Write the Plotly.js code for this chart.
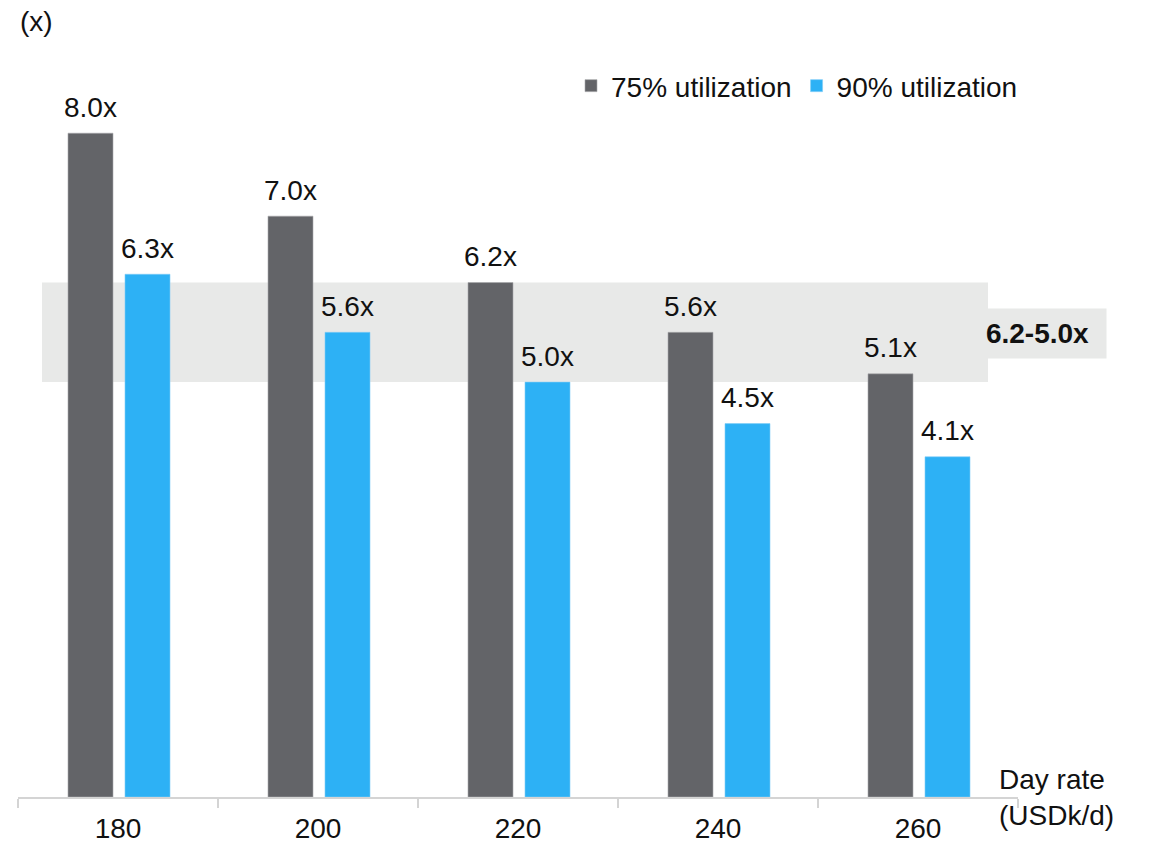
<!DOCTYPE html>
<html>
<head>
<meta charset="utf-8">
<script src="https://cdn.plot.ly/plotly-3.0.1.min.js"></script>
<style>
  html, body { margin: 0; padding: 0; background: #ffffff; }
  #chart { width: 1152px; height: 845px; }
</style>
</head>
<body>
<div id="chart"></div>
<script>
// Payback multiple (x) by day rate, at two utilization levels
const dayRates = ['180', '200', '220', '240', '260'];
const util75 = [8.0, 7.0, 6.2, 5.6, 5.1];
const util90 = [6.3, 5.6, 5.0, 4.5, 4.1];
const seriesNames = ['75% utilization', '90% utilization'];

// Highlighted range
const bandHigh = 6.2;
const bandLow = 5.0;

const FONT = 'Liberation Sans, Arial, Helvetica, sans-serif';
const FS = 28;
const GREY = '#636468';
const BLUE = '#2db1f5';
const BAND = '#e8e9e8';
const INK = '#111111';

// bar geometry, in category units
const BAR_W = 0.225;
const OFFSETS = [-0.25, 0.035];

const fmt = v => v.toFixed(1) + 'x';

const series = [util75, util90];
const colors = [GREY, BLUE];
const edges = ['#a9aaad', '#7fcdf7'];

const traces = series.map((vals, k) => ({
  type: 'bar',
  name: seriesNames[k],
  x: dayRates,
  y: vals,
  width: BAR_W,
  offset: OFFSETS[k],
  marker: { color: colors[k], line: { color: edges[k], width: 0.6 } },
  hoverinfo: 'skip'
}));

// value labels floating above each bar
const valueLabels = [];
series.forEach((vals, k) => {
  vals.forEach((v, i) => {
    valueLabels.push({
      xref: 'x', yref: 'y',
      x: i + OFFSETS[k] + BAR_W / 2,
      y: v,
      xanchor: 'center', yanchor: 'middle',
      yshift: 26,
      text: fmt(v),
      showarrow: false,
      font: { family: FONT, size: FS, color: INK }
    });
  });
});

const layout = {
  width: 1152,
  height: 845,
  margin: { l: 18, r: 134, t: 100, b: 48 },
  paper_bgcolor: '#ffffff',
  plot_bgcolor: '#ffffff',
  font: { family: FONT, size: FS, color: INK },
  barmode: 'group',
  showlegend: true,
  legend: {
    orientation: 'h',
    x: 0.553,
    xanchor: 'left',
    y: 1.056,
    yanchor: 'top',
    font: { family: FONT, size: FS, color: INK },
    bgcolor: 'rgba(0,0,0,0)',
    traceorder: 'normal'
  },
  xaxis: {
    type: 'category',
    categoryorder: 'array',
    categoryarray: dayRates,
    range: [-0.5, 4.5],
    showline: true,
    linecolor: '#d4d4d4',
    linewidth: 2,
    ticks: 'outside',
    tickson: 'boundaries',
    ticklen: 9,
    tickwidth: 1.5,
    tickcolor: '#d4d4d4',
    ticklabelstandoff: 5,
    showgrid: false,
    zeroline: false,
    tickfont: { family: FONT, size: FS, color: INK },
    fixedrange: true
  },
  yaxis: {
    range: [0, 8.4],
    visible: false,
    showgrid: false,
    zeroline: false,
    fixedrange: true
  },
  shapes: [
    {
      type: 'rect',
      layer: 'below',
      xref: 'x', yref: 'y',
      x0: -0.38, x1: 4.35,
      y0: bandLow, y1: bandHigh,
      fillcolor: BAND,
      line: { width: 0 }
    }
  ],
  annotations: valueLabels.concat([
    {
      // range label tab, sitting just right of the plot area
      xref: 'paper', yref: 'y',
      x: 1.0195, y: (bandHigh + bandLow) / 2,
      xanchor: 'center', yanchor: 'middle',
      yshift: -1,
      text: '<b>' + bandHigh.toFixed(1) + '-' + bandLow.toFixed(1) + 'x</b>',
      showarrow: false,
      width: 135, height: 47,
      bgcolor: BAND,
      font: { family: FONT, size: FS, color: INK }
    },
    {
      xref: 'paper', yref: 'paper',
      x: 0, y: 1.112,
      xanchor: 'left', yanchor: 'middle',
      text: '(x)',
      showarrow: false,
      font: { family: FONT, size: FS, color: INK }
    },
    {
      xref: 'paper', yref: 'paper',
      x: 0.979, y: 0,
      xanchor: 'left', yanchor: 'middle',
      align: 'left',
      text: 'Day rate<br>(USDk/d)',
      showarrow: false,
      font: { family: FONT, size: FS, color: INK }
    }
  ])
};

Plotly.newPlot('chart', traces, layout, { displayModeBar: false, staticPlot: true });
</script>
</body>
</html>
